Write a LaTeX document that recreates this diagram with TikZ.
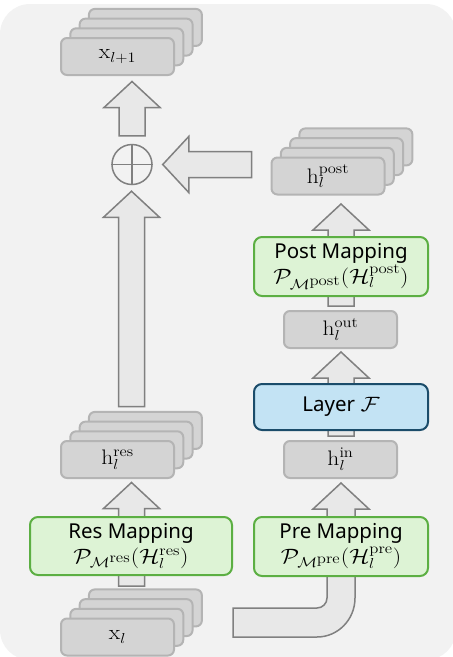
\documentclass[tikz,border=0pt]{standalone}
\usepackage{graphicx}
\usepackage{fontspec}
\newfontfamily\sansf{Noto Sans}
\usetikzlibrary{calc}
\definecolor{bgc}{HTML}{F2F2F2}
\definecolor{boxfill}{HTML}{D4D4D4}
\definecolor{boxline}{HTML}{B4B4B4}
\definecolor{arrfill}{HTML}{E8E8E8}
\definecolor{arrline}{HTML}{808080}
\definecolor{grfill}{HTML}{DDF3D5}
\definecolor{grline}{HTML}{5CAF43}
\definecolor{blfill}{HTML}{C3E3F4}
\definecolor{blline}{HTML}{1B4C6A}
\pgfdeclarelayer{bglayer}
\pgfdeclarelayer{arrlayer}
\pgfsetlayers{bglayer,arrlayer,main}
\DeclareMathSizes{21}{21}{14.7}{10.5}
\newcommand\lblm[1]{\scalebox{1.12}[1]{\fontsize{21}{24}\selectfont$#1$}}
\newcommand\mapm[1]{\scalebox{1.14}[1]{\fontsize{21}{24}\selectfont$#1$}}
\newcommand\nestsup[1]{{\scriptstyle\mathrm{#1}}}
\tikzset{
  gbox/.style={draw=boxline, fill=boxfill, line width=2pt, rounded corners=6pt,
    minimum width=113pt, minimum height=37pt, inner sep=0pt},
  mapbox/.style={draw=grline, fill=grfill, line width=2pt, rounded corners=8pt,
    minimum width=174pt, minimum height=59pt, inner sep=0pt, align=center},
  laybox/.style={draw=blline, fill=blfill, line width=2pt, rounded corners=8pt,
    minimum width=174pt, minimum height=46pt, inner sep=0pt},
  blk/.style={draw=arrline, fill=arrfill, line width=1.5pt, line join=miter},
}
\newcommand\stk[4]{%
  \foreach \k in {3,2,1} {\node[gbox] at ({#2+9.3*\k},{#3-9.7*\k}) {};}
  \node[gbox] (#1) at (#2,#3) {#4};
  \coordinate (#1-top) at ({#2+14},{#3-48});
  \coordinate (#1-bot) at ({#2+14},{#3+19});
}
\newcommand\uparr[2]{%
  \draw[blk] let \p1=#1, \p2=#2 in
    (\x1-13pt,\y1) -- (\x1-13pt,\y2-26pt) -- (\x1-28pt,\y2-26pt) -- (\x1,\y2)
    -- (\x1+28pt,\y2-26pt) -- (\x1+13pt,\y2-26pt) -- (\x1+13pt,\y1) -- cycle;}
\newcommand\leftarr[2]{%
  \draw[blk] let \p1=#1, \p2=#2 in
    (\x1,\y1-13pt) -- (\x2+26pt,\y1-13pt) -- (\x2+26pt,\y1-28pt) -- (\x2,\y1)
    -- (\x2+26pt,\y1+28pt) -- (\x2+26pt,\y1+13pt) -- (\x1,\y1+13pt) -- cycle;}
\newcommand\bendarr[2]{%
  \draw[blk] let \p1=#1, \p2=#2 in
    (\x1,\y1+14.5pt) -- (\x2-24pt,\y1+14.5pt)
    .. controls (\x2-18.48pt,\y1+14.5pt) and (\x2-14pt,\y1+18.98pt) .. (\x2-14pt,\y1+24.5pt)
    -- (\x2-14pt,\y2-26pt) -- (\x2-28pt,\y2-26pt) -- (\x2,\y2)
    -- (\x2+28pt,\y2-26pt) -- (\x2+14pt,\y2-26pt) -- (\x2+14pt,\y1+24.5pt)
    .. controls (\x2+14pt,\y1+2.96pt) and (\x2-3.01pt,\y1-14.5pt) .. (\x2-24pt,\y1-14.5pt)
    -- (\x1,\y1-14.5pt) -- cycle;}
\begin{document}
\begin{tikzpicture}[x=1pt,y=-1pt,font=\sansf\fontsize{20.5}{24}\selectfont]
\useasboundingbox (0,0) rectangle (453,657);
\begin{pgfonlayer}{bglayer}
  \fill[bgc, rounded corners=30pt] (0,4) rectangle (456,660);
\end{pgfonlayer}
% left column
\stk{xl1}{117.5}{56.5}{\lblm{\mathrm{x}_{l+1}}}
\node[circle, draw=arrline, line width=1.5pt, minimum size=40pt, inner sep=0pt] (plus) at (132,164.5) {};
\draw[arrline, line width=1.5pt] (plus.north) -- (plus.south) (plus.west) -- (plus.east);
\stk{hres}{117.5}{459.5}{\lblm{\mathrm{h}_l^{\mathrm{res}}}}
\node[mapbox, minimum width=202pt, minimum height=58pt] (resmap) at (131,546)
  {Res Mapping\\[1pt]\mapm{\mathcal{P}_{\mathcal{M}^{\nestsup{res}}}(\mathcal{H}_l^{\mathrm{res}})}};
\stk{xl}{117.5}{637}{\lblm{\mathrm{x}_l}}
% right column
\stk{hpost}{328}{176}{\lblm{\mathrm{h}_l^{\mathrm{post}}}}
\node[mapbox] (postmap) at (341,266.5)
  {Post Mapping\\[1pt]\mapm{\mathcal{P}_{\mathcal{M}^{\nestsup{post}}}(\mathcal{H}_l^{\mathrm{post}})}};
\node[gbox] (hout) at (340.5,329.5) {\lblm{\mathrm{h}_l^{\mathrm{out}}}};
\node[laybox] (layer) at (341,407) {Layer \lblm{\mathcal{F}}};
\node[gbox] (hin) at (340.5,459.5) {\lblm{\mathrm{h}_l^{\mathrm{in}}}};
\node[mapbox] (premap) at (341,546.5)
  {Pre Mapping\\[1pt]\mapm{\mathcal{P}_{\mathcal{M}^{\nestsup{pre}}}(\mathcal{H}_l^{\mathrm{pre}})}};
\coordinate (cstart) at (233,622.5);
% arrows
\begin{pgfonlayer}{arrlayer}
  \uparr{($(xl-top)+(0,-3)$)}{($(hres-bot)+(0,4)$)}
  \uparr{($(hres-top)+(0,-5)$)}{($(plus.south)+(0,6)$)}
  \uparr{($(plus.north)+(0,-8)$)}{($(xl1-bot)+(0,6)$)}
  \leftarr{($(plus -| hpost.west)+(-19,0)$)}{($(plus.east)+(10,0)$)}
  \bendarr{(cstart)}{($(hin.south)+(0.5,4)$)}
  \uparr{($(hin.north)+(0.5,-4)$)}{($(hout.south)+(0.5,3)$)}
  \uparr{($(hout.north)+(0.5,-4)$)}{($(hpost-bot)+(0,9)$)}
\end{pgfonlayer}
\end{tikzpicture}
\end{document}
